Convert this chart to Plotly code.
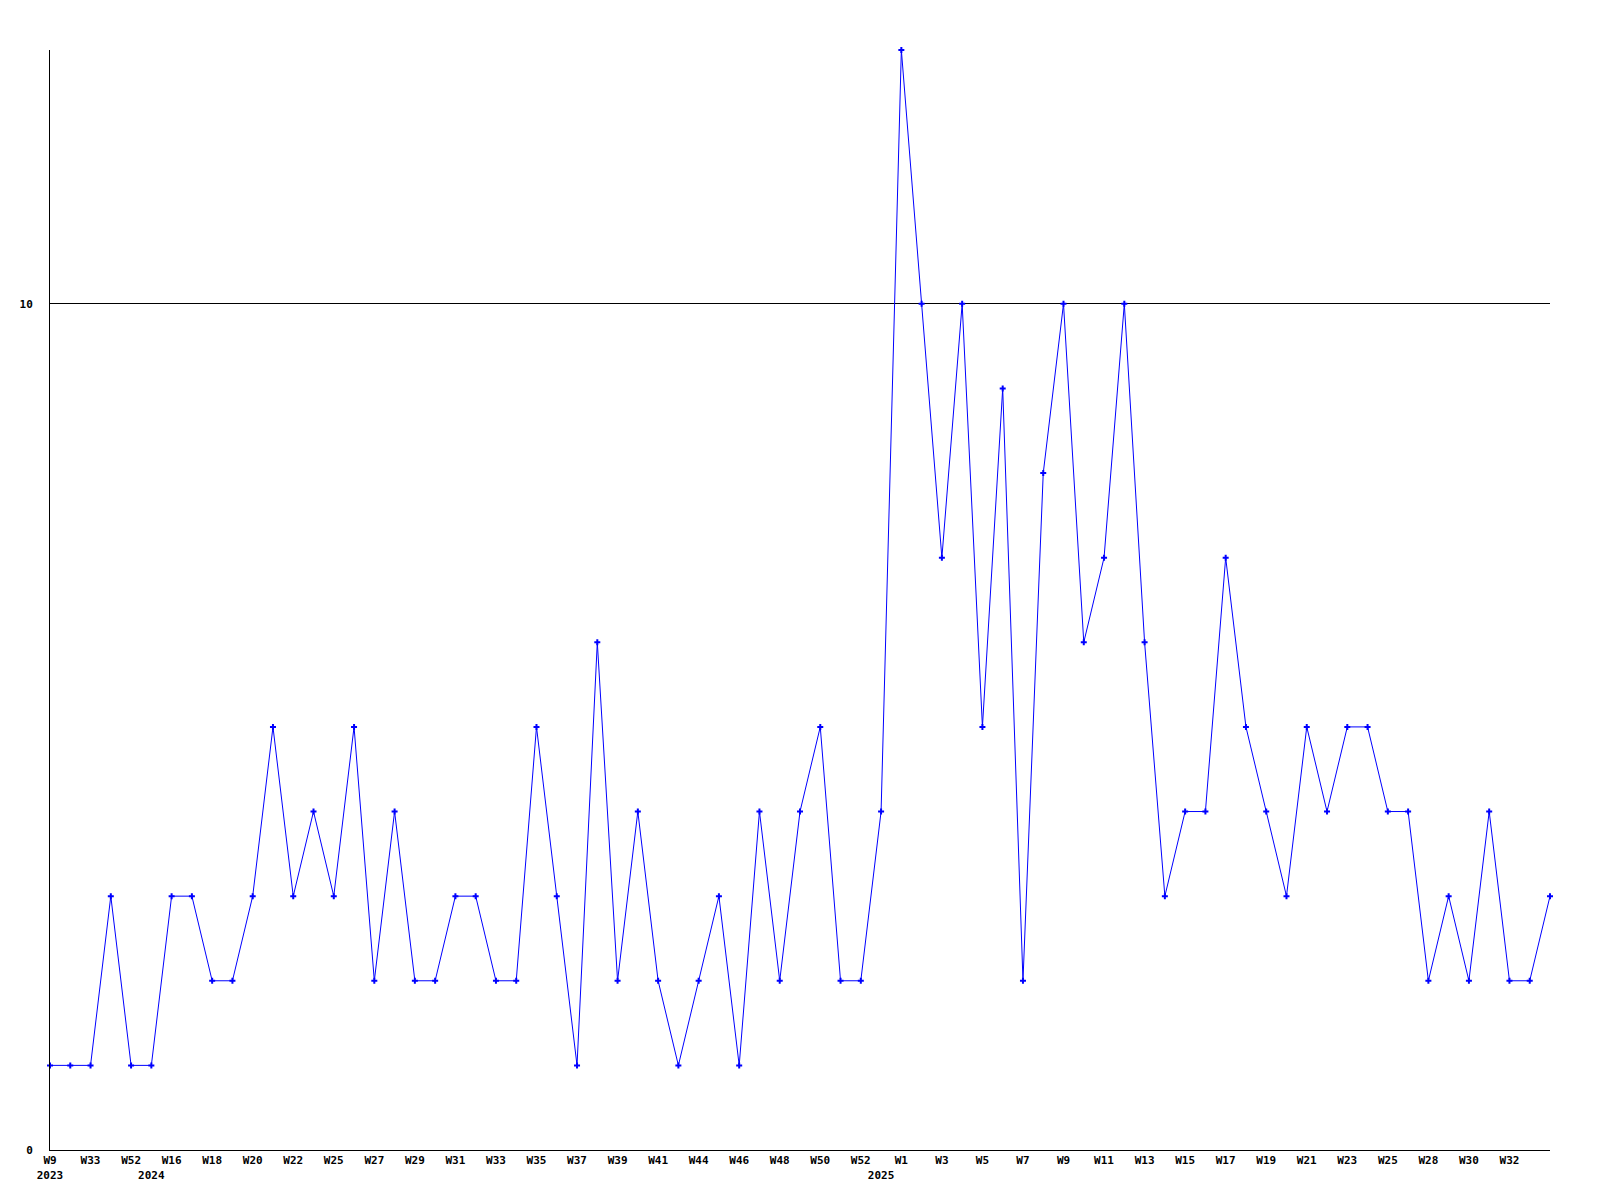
import plotly.graph_objects as go

values = [1, 1, 1, 3, 1, 1, 3, 3, 2, 2,
          3, 5, 3, 4, 3, 5, 2, 4, 2, 2,
          3, 3, 2, 2, 5, 3, 1, 6, 2, 4,
          2, 1, 2, 3, 1, 4, 2, 4, 5, 2,
          2, 4, 13, 10, 7, 10, 5, 9, 2, 8,
          10, 6, 7, 10, 6, 3, 4, 4, 7, 5,
          4, 3, 5, 4, 5, 5, 4, 4, 2, 3,
          2, 4, 2, 2, 3]

week_labels = ["W9", "W33", "W52", "W16", "W18", "W20", "W22", "W25", "W27", "W29",
               "W31", "W33", "W35", "W37", "W39", "W41", "W44", "W46", "W48", "W50",
               "W52", "W1", "W3", "W5", "W7", "W9", "W11", "W13", "W15", "W17",
               "W19", "W21", "W23", "W25", "W28", "W30", "W32"]
year_labels = {0: "2023", 5: "2024", 41: "2025"}

n = len(values)
xs = list(range(n))

tickvals = []
ticktext = []
for i in range(n):
    top = week_labels[i // 2] if i % 2 == 0 and i // 2 < len(week_labels) else ""
    yr = year_labels.get(i, "")
    if top or yr:
        tickvals.append(i)
        ticktext.append(top + "<br>" + yr if yr else top)

tfont = dict(family="DejaVu Sans Mono", size=11, color="black", weight="bold")

fig = go.Figure()
fig.add_trace(go.Scatter(
    x=xs, y=values, mode="lines+markers", cliponaxis=False,
    line=dict(color="#0000ff", width=1),
    marker=dict(symbol="cross", size=5, color="#0000ff", line=dict(width=0)),
    showlegend=False, hoverinfo="skip",
))

fig.update_layout(
    width=1584, height=1184,
    margin=dict(l=42, r=42, t=42, b=42, autoexpand=False),
    paper_bgcolor="white", plot_bgcolor="white",
)
fig.update_xaxes(
    range=[0, n - 1], tickvals=tickvals, ticktext=ticktext, tickangle=0,
    automargin=False,
    showgrid=False, zeroline=False, showline=True, linecolor="black", linewidth=1,
    ticks="", tickfont=tfont,
)
fig.update_yaxes(
    range=[0, 13], tickvals=[0, 10], ticktext=["0", "10"], automargin=False,
    showgrid=True, gridcolor="black", gridwidth=1, zeroline=False,
    showline=True, linecolor="black", linewidth=1, ticks="", ticklabelstandoff=14,
    tickfont=tfont,
)

fig.write_html("out.html")
